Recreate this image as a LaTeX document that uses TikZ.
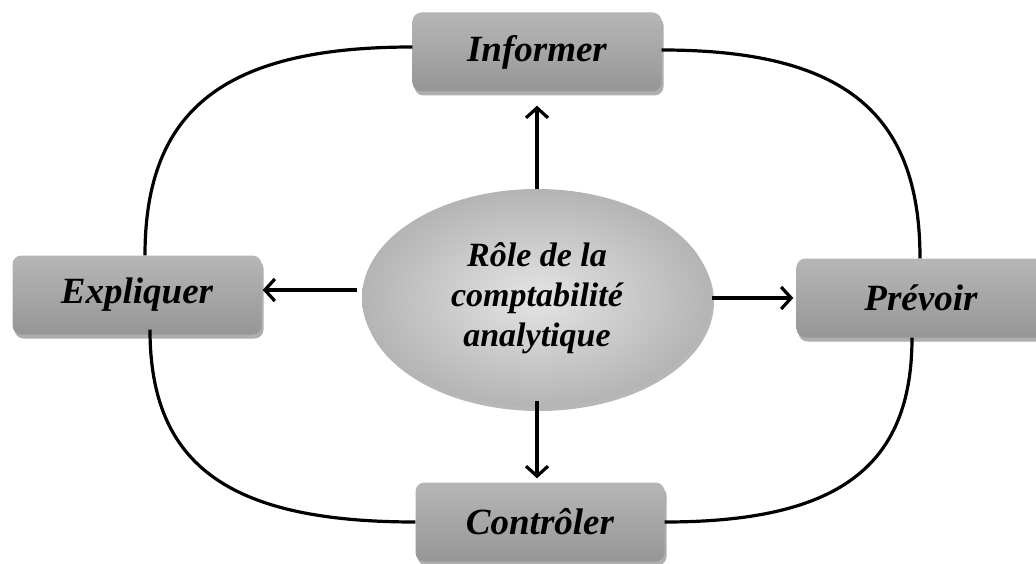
\documentclass[tikz,border=0pt]{standalone}
\usepackage{fontspec}
\setmainfont{Liberation Serif}
\usetikzlibrary{arrows.meta,shadows,shapes.geometric}
\definecolor{boxtop}{RGB}{182,182,182}
\definecolor{boxbot}{RGB}{150,150,150}
\definecolor{ellin}{RGB}{228,228,228}
\definecolor{ellout}{RGB}{180,180,180}
\tikzset{
  rolebox/.style={rectangle, rounded corners=9pt, minimum width=249pt, minimum height=79pt,
    top color=boxtop, bottom color=boxbot, draw=none,
    drop shadow={shadow xshift=2pt, shadow yshift=-4pt, opacity=0.45, fill=black!70},
    font=\fontsize{37}{42}\selectfont\bfseries\itshape},
  hub/.style={ellipse, minimum width=350pt, minimum height=218pt, inner sep=0pt,
    inner color=ellin, outer color=ellout, draw=none,
    drop shadow={shadow xshift=2pt, shadow yshift=-4pt, opacity=0.4, fill=black!70},
    align=center, font=\fontsize{34}{40}\selectfont\bfseries\itshape},
  arr/.style={line width=3.2pt, -{Straight Barb[length=10pt,width=22pt,line width=3.2pt]}},
  loop/.style={line width=3.2pt}
}
\begin{document}
\begin{tikzpicture}[x=1pt,y=-1pt]
\useasboundingbox (0,0) rectangle (1036,564);
% four roles round the centre
\node[rolebox] (inf) at (537,52) {Informer};
\node[rolebox] (exp) at (137,295) {Expliquer};
\node[rolebox] (prev) at (921,298) {Prévoir};
\node[rolebox] (ctrl) at (540,522) {Contrôler};
% centre
\node[hub] (role) at (537,298) {Rôle de la\\comptabilité\\analytique};
% arrows out of the centre
\draw[arr] (role.north) -- ([yshift=-14pt]inf.south);
\draw[arr] ([xshift=-5pt,yshift=8pt]role.west) -- ([xshift=1pt,yshift=5pt]exp.east);
\draw[arr] (role.east) -- ([xshift=-3pt]prev.west);
\draw[arr] ([yshift=6pt]role.south) -- ([yshift=4pt]role.south |- ctrl.north);
% the closed loop linking the roles
\draw[loop] ([yshift=5pt]inf.west) .. controls (225,47) and (145,109) .. ([xshift=8pt]exp.north);
\draw[loop] ([yshift=2pt]inf.east) .. controls (843,50) and (920,112) .. ([xshift=-1pt]prev.north);
\draw[loop] ([xshift=13pt,yshift=5pt]exp.south) .. controls (150,466) and (230,522) .. (ctrl.west);
\draw[loop] (ctrl.east) .. controls (838,522) and (912,467) .. ([xshift=-9pt]prev.south);
\end{tikzpicture}
\end{document}
